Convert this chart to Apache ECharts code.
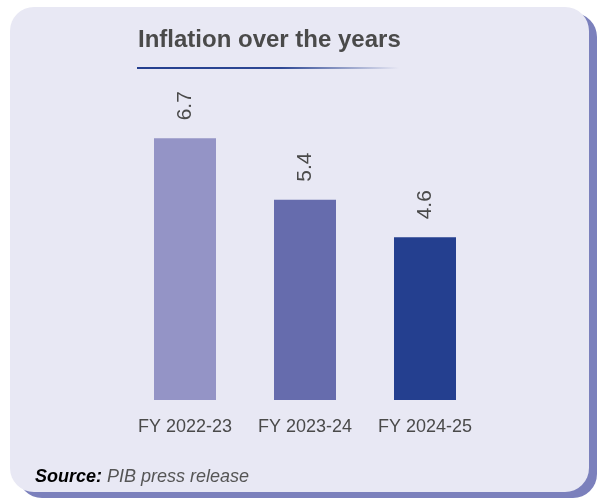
<!DOCTYPE html>
<html>
<head>
<meta charset="utf-8">
<script src="https://cdn.jsdelivr.net/npm/echarts@6/dist/echarts.min.js"></script>
<style>
  html, body { margin: 0; padding: 0; background: #ffffff; }
  #chart { width: 597px; height: 498px; }
</style>
</head>
<body>
<div id="chart"></div>
<script>
// Inflation by fiscal year (%)
const categories = ['FY 2022-23', 'FY 2023-24', 'FY 2024-25'];
const inflation = [6.7, 5.4, 4.6];
const barColors = ['#9494c6', '#666cad', '#243f8f'];

const FONT = '"Liberation Sans", Arial, Helvetica, sans-serif';
const TEXT = '#4a4a4a';

const chart = echarts.init(document.getElementById('chart'), null, { renderer: 'canvas' });

chart.setOption({
  backgroundColor: '#ffffff',
  animation: false,
  graphic: [
    // card shadow
    {
      type: 'rect', z: -10, silent: true,
      shape: { x: 18, y: 13, width: 579, height: 485, r: 24 },
      style: { fill: '#7b80bc' }
    },
    // card face
    {
      type: 'rect', z: -9, silent: true,
      shape: { x: 10, y: 7, width: 579, height: 485, r: 24 },
      style: { fill: '#e8e8f4' }
    },
    // title underline fading to the right
    {
      type: 'rect', z: 1, silent: true,
      shape: { x: 137, y: 67, width: 262, height: 2 },
      style: {
        fill: new echarts.graphic.LinearGradient(0, 0, 1, 0, [
          { offset: 0, color: 'rgba(36,63,143,1)' },
          { offset: 0.55, color: 'rgba(36,63,143,0.95)' },
          { offset: 1, color: 'rgba(36,63,143,0)' }
        ])
      }
    },
    // source note
    {
      type: 'text', z: 1, silent: true,
      left: 35, top: 468,
      style: {
        text: '{b|Source:}{i| PIB press release}',
        rich: {
          b: { fontFamily: FONT, fontSize: 18, fontWeight: 'bold', fontStyle: 'italic', fill: '#000000' },
          i: { fontFamily: FONT, fontSize: 18, fontStyle: 'italic', fill: '#555555' }
        }
      }
    }
  ],
  title: {
    text: 'Inflation over the years',
    left: 133,
    top: 23,
    textStyle: { fontFamily: FONT, fontSize: 24, fontWeight: 'bold', color: TEXT }
  },
  grid: { left: 125, right: 112, top: 70, bottom: 98, containLabel: false },
  xAxis: {
    type: 'category',
    data: categories,
    axisLine: { show: false },
    axisTick: { show: false },
    axisLabel: { fontFamily: FONT, fontSize: 18, color: TEXT, margin: 18, interval: 0 }
  },
  yAxis: {
    type: 'value',
    min: 1.15,
    max: 8.15,
    show: false,
    splitLine: { show: false }
  },
  series: [{
    type: 'bar',
    barWidth: 62,
    data: inflation.map((v, i) => ({ value: v, itemStyle: { color: barColors[i] } })),
    label: {
      show: true,
      position: 'top',
      rotate: 90,
      align: 'left',
      verticalAlign: 'middle',
      distance: 18,
      fontFamily: FONT,
      fontSize: 21,
      color: TEXT,
      formatter: p => p.value.toFixed(1)
    }
  }]
});
</script>
</body>
</html>
